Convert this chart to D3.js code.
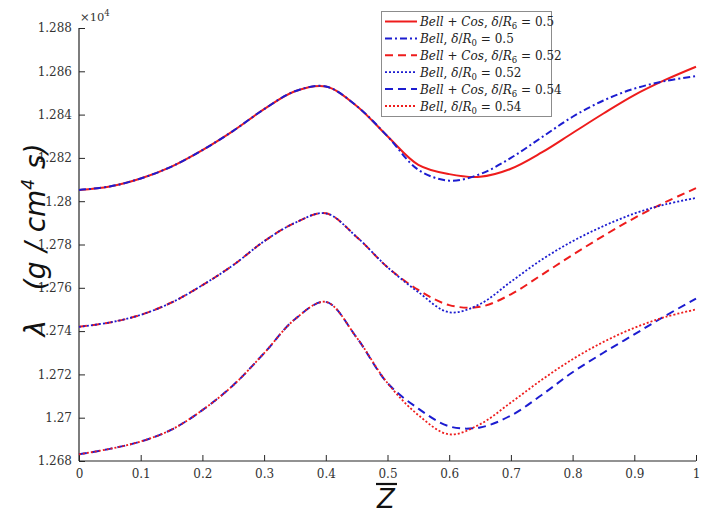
<!DOCTYPE html>
<html>
<head>
<meta charset="utf-8">
<script src="https://cdn.jsdelivr.net/npm/d3@7"></script>
<style>
  body { margin: 0; background: #fff; }
</style>
</head>
<body>
<svg id="chart" width="706" height="516"></svg>
<script>
// axial position (z bar)
let zValues = [0, 0.05, 0.1, 0.15, 0.2, 0.25, 0.3, 0.35, 0.4, 0.45, 0.5,
  0.55, 0.6, 0.65, 0.7, 0.75, 0.8, 0.85, 0.9, 0.95, 1]

// lambda values, units of 1e4
let bellCos050 = [1.28052, 1.28068, 1.28105, 1.28160, 1.28236, 1.28325, 1.28425, 1.28508, 1.28530, 1.28440, 1.28300,
  1.28168, 1.28125, 1.28113, 1.28150, 1.28225, 1.28315, 1.28405, 1.28490, 1.28560, 1.28621]
let bell050 = [1.28052, 1.28068, 1.28105, 1.28160, 1.28236, 1.28325, 1.28425, 1.28508, 1.28530, 1.28440, 1.28300,
  1.28145, 1.28095, 1.28125, 1.28200, 1.28295, 1.28390, 1.28465, 1.28520, 1.28555, 1.28578]
let bellCos052 = [1.27420, 1.27440, 1.27475, 1.27532, 1.27612, 1.27705, 1.27815, 1.27900, 1.27944, 1.27835, 1.27695,
  1.27590, 1.27520, 1.27512, 1.27570, 1.27660, 1.27752, 1.27840, 1.27922, 1.27995, 1.28060]
let bell052 = [1.27420, 1.27440, 1.27475, 1.27532, 1.27612, 1.27705, 1.27815, 1.27900, 1.27944, 1.27835, 1.27695,
  1.27580, 1.27487, 1.27525, 1.27628, 1.27730, 1.27815, 1.27885, 1.27943, 1.27985, 1.28015]
let bellCos054 = [1.26831, 1.26856, 1.26890, 1.26945, 1.27035, 1.27150, 1.27298, 1.27455, 1.27535, 1.27370, 1.27160,
  1.27042, 1.26960, 1.26955, 1.27010, 1.27105, 1.27210, 1.27300, 1.27385, 1.27470, 1.27550]
let bell054 = [1.26831, 1.26856, 1.26890, 1.26945, 1.27035, 1.27150, 1.27298, 1.27455, 1.27535, 1.27370, 1.27160,
  1.27012, 1.26923, 1.26970, 1.27070, 1.27175, 1.27270, 1.27350, 1.27415, 1.27465, 1.27500]

let xTicks = [0, 0.1, 0.2, 0.3, 0.4, 0.5, 0.6, 0.7, 0.8, 0.9, 1]
let yTicks = [1.268, 1.27, 1.272, 1.274, 1.276, 1.278, 1.28, 1.282, 1.284, 1.286, 1.288]

let seriesNames = ['Bell + Cos, 0.5', 'Bell, 0.5', 'Bell + Cos, 0.52', 'Bell, 0.52', 'Bell + Cos, 0.54', 'Bell, 0.54']
let seriesValues = [bellCos050, bell050, bellCos052, bell052, bellCos054, bell054]
let legendModel = ['Bell + Cos', 'Bell', 'Bell + Cos', 'Bell', 'Bell + Cos', 'Bell']
let legendRatio = ['0.5', '0.5', '0.52', '0.52', '0.54', '0.54']

let red = '#ee1c1c'
let blue = '#1c1cd0'
let styles = [
  {color: red, dash: null, width: 2},
  {color: blue, dash: '7,3,2,3', width: 2},
  {color: red, dash: '8,5', width: 2},
  {color: blue, dash: '2,2', width: 1.8},
  {color: blue, dash: '8,5', width: 2},
  {color: red, dash: '2,2', width: 1.8}
]

let serif = "'DejaVu Serif', 'Liberation Serif', serif"
let sans = "'DejaVu Sans', 'Liberation Sans', sans-serif"

let svg = d3.select('#chart')
let plotLeft = 79, plotRight = 696, plotTop = 28, plotBottom = 461
let axisColor = '#262626'

let x = d3.scaleLinear().domain([0, 1]).range([plotLeft, plotRight])
let y = d3.scaleLinear().domain([1.268, 1.288]).range([plotBottom, plotTop])

// axes (MATLAB style, ticks inside)
let xAxis = svg.append('g')
  .attr('transform', 'translate(0,' + plotBottom + ')')
  .call(d3.axisBottom(x).tickValues(xTicks).tickSize(-6).tickPadding(7)
    .tickFormat(d => d3.format('')(+d.toFixed(1))))
let yAxis = svg.append('g')
  .attr('transform', 'translate(' + plotLeft + ',0)')
  .call(d3.axisLeft(y).tickValues(yTicks).tickSize(-6).tickPadding(7)
    .tickFormat(d => d3.format('')(+d.toFixed(3))))

;[xAxis, yAxis].forEach(function(ax){
  ax.attr('font-family', null)
  ax.select('.domain').attr('stroke', axisColor).attr('stroke-width', 1.2)
    .attr('d', ax === xAxis ? 'M' + plotLeft + ',0H' + plotRight : 'M0,' + plotBottom + 'V' + plotTop)
  ax.selectAll('.tick line').attr('stroke', axisColor)
  ax.selectAll('.tick text').attr('fill', '#333').attr('font-size', 12)
    .style('font-family', serif)
})
xAxis.selectAll('.tick text').attr('dy', '0.8em')

// x10^4 multiplier
svg.append('text')
  .attr('x', 80).attr('y', 21)
  .attr('font-size', 11.5).attr('fill', '#333')
  .style('font-family', serif)
  .html('×10<tspan dy="-5" font-size="8.5">4</tspan>')

// lines
let line = d3.line()
  .x((d, i) => x(zValues[i]))
  .y(d => y(d))
  .curve(d3.curveCatmullRom.alpha(0.5))

svg.append('g').selectAll('path')
  .data(seriesValues)
  .enter()
  .append('path')
  .attr('d', d => line(d))
  .attr('fill', 'none')
  .attr('stroke', (d, i) => styles[i].color)
  .attr('stroke-width', (d, i) => styles[i].width)
  .attr('stroke-dasharray', (d, i) => styles[i].dash)

// legend
let legend = svg.append('g')
legend.append('rect')
  .attr('x', 381.5).attr('y', 11.5)
  .attr('width', 170).attr('height', 105)
  .attr('fill', '#fff').attr('stroke', '#8c8c8c').attr('stroke-width', 1)

let rows = legend.selectAll('.row')
  .data(seriesNames)
  .enter()
  .append('g')
  .attr('class', 'row')
  .attr('transform', (d, i) => 'translate(0,' + (21.5 + i * 16.9) + ')')

rows.append('line')
  .attr('x1', 385).attr('x2', 417)
  .attr('stroke', (d, i) => styles[i].color)
  .attr('stroke-width', (d, i) => styles[i].width)
  .attr('stroke-dasharray', (d, i) => styles[i].dash)

rows.append('text')
  .attr('x', 420).attr('y', 4.5)
  .attr('font-size', 12).attr('fill', '#222')
  .style('font-family', serif)
  .html(function(d, i){
    let sub = i % 2 == 0 ? '6' : '0'
    return '<tspan font-style="italic">' + legendModel[i].replace(' + ', '</tspan> + <tspan font-style="italic">') +
      '</tspan>, <tspan font-style="italic">δ</tspan>/<tspan font-style="italic">R</tspan>' +
      '<tspan dy="3" font-size="8.5">' + sub + '</tspan><tspan dy="-3"> = ' + legendRatio[i] + '</tspan>'
  })

// axis titles
svg.append('text')
  .attr('transform', 'translate(45,240) rotate(-90)')
  .attr('text-anchor', 'middle')
  .attr('font-size', 28).attr('font-style', 'italic').attr('fill', '#111')
  .style('font-family', sans)
  .attr('word-spacing', 1)
  .html('λ&#160;&#160;&#160;(g / cm<tspan dy="-11" font-size="17">4</tspan><tspan dy="11"> s)</tspan>')

svg.append('text')
  .attr('x', 386).attr('y', 508)
  .attr('text-anchor', 'middle')
  .attr('font-size', 26).attr('font-style', 'italic').attr('fill', '#111')
  .style('font-family', sans)
  .text('Z')
svg.append('line')
  .attr('x1', 376).attr('x2', 397)
  .attr('y1', 484).attr('y2', 484)
  .attr('stroke', '#111').attr('stroke-width', 2.2)
</script>
</body>
</html>
